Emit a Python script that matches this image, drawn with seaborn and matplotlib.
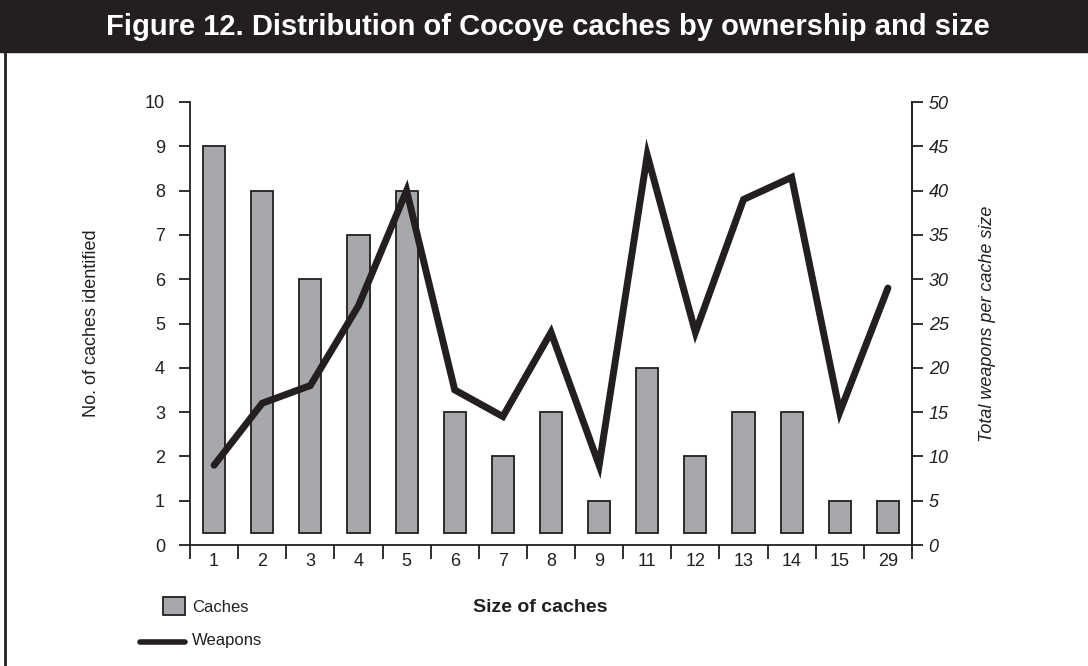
import numpy as np
import pandas as pd
import matplotlib
matplotlib.use("Agg")
import matplotlib.pyplot as plt
import seaborn as sns
from matplotlib.patches import Rectangle
from matplotlib.lines import Line2D

# data
cache_sizes = ["1", "2", "3", "4", "5", "6", "7", "8", "9", "11", "12", "13", "14", "15", "29"]
caches = [9, 8, 6, 7, 8, 3, 2, 3, 1, 4, 2, 3, 3, 1, 1]
weapons = [9, 16, 18, 27, 40, 17.5, 14.5, 24, 9, 44, 24, 39, 41.5, 15, 29]

BAR_BASE = 0.28  # bars in the original float slightly above the baseline
DARK = "#231f20"
GREY = "#a7a8ab"

sns.set_theme(style="white")
plt.rcParams["font.family"] = ["Liberation Sans", "DejaVu Sans"]
plt.rcParams["text.color"] = DARK
plt.rcParams["axes.labelcolor"] = DARK
plt.rcParams["xtick.color"] = DARK
plt.rcParams["ytick.color"] = DARK

df = pd.DataFrame({"size": cache_sizes, "caches": caches, "weapons": weapons})


def create_chart():
    fig = plt.figure(figsize=(10.88, 6.66), dpi=100)
    ax = fig.add_axes([190 / 1088, 1 - 545 / 666, 722 / 1088, 443 / 666])

    # caches bars
    sns.barplot(data=df, x="size", y="caches", ax=ax, color=GREY,
                edgecolor=DARK, linewidth=1.3, width=0.46, saturation=1)
    for p in ax.patches:
        h = p.get_height()
        p.set_y(BAR_BASE)
        p.set_height(h - BAR_BASE)

    ax.set_ylim(0, 10)
    ax.set_xlim(-0.5, len(cache_sizes) - 0.5)
    ax.set_yticks(range(0, 11))
    ax.set_xlabel("")
    ax.set_ylabel("No. of caches identified", fontsize=13, labelpad=32)
    ax.tick_params(axis="y", direction="out", length=8, width=1.3, pad=10,
                   labelsize=13, left=True)
    ax.tick_params(axis="x", which="major", length=0, pad=6, labelsize=13)
    ax.set_xticks(np.arange(-0.5, len(cache_sizes)), minor=True)
    ax.tick_params(axis="x", which="minor", direction="out", length=10,
                   width=1.3, bottom=True)
    for s in ["left", "bottom", "right"]:
        ax.spines[s].set_visible(True)
        ax.spines[s].set_color(DARK)
        ax.spines[s].set_linewidth(1.3)
    ax.spines["top"].set_visible(False)

    # weapons line on secondary axis
    ax2 = ax.twinx()
    sns.lineplot(x=np.arange(len(cache_sizes)), y=df["weapons"], ax=ax2,
                 color=DARK, linewidth=5, solid_joinstyle="miter")
    ax2.set_ylim(0, 50)
    ax2.set_yticks(range(0, 51, 5))
    ax2.set_ylabel("Total weapons per cache size", fontsize=13,
                   style="italic", labelpad=22)
    ax2.tick_params(axis="y", direction="out", length=8, width=1.3, pad=4,
                    labelsize=13, right=True)
    for lbl in ax2.get_yticklabels():
        lbl.set_style("italic")
    for s in ["left", "bottom", "top"]:
        ax2.spines[s].set_visible(False)
    ax2.spines["right"].set_visible(True)
    ax2.spines["right"].set_color(DARK)
    ax2.spines["right"].set_linewidth(1.3)

    # title bar
    fig.patches.append(Rectangle((0, 1 - 52 / 666), 1, 52 / 666,
                                 transform=fig.transFigure, color=DARK, zorder=0))
    fig.text(548 / 1088, 1 - 27 / 666, "Figure 12. Distribution of Cocoye caches by ownership and size",
             ha="center", va="center", color="white", fontsize=21,
             fontweight="bold")
    # frame line on the left
    fig.add_artist(Line2D([5 / 1088, 5 / 1088], [0, 1 - 52 / 666],
                          transform=fig.transFigure, color=DARK, linewidth=2))

    fig.text(540 / 1088, 1 - 607 / 666, "Size of caches", ha="center",
             va="center", fontsize=14, fontweight="bold")

    # legend
    fig.patches.append(Rectangle((163 / 1088, 1 - 615 / 666), 22 / 1088, 18 / 666,
                                 transform=fig.transFigure, facecolor=GREY,
                                 edgecolor=DARK, linewidth=1.3))
    fig.text(192 / 1088, 1 - 607 / 666, "Caches", va="center", fontsize=12)
    fig.add_artist(Line2D([140 / 1088, 185 / 1088], [1 - 642 / 666, 1 - 642 / 666],
                          transform=fig.transFigure, color=DARK, linewidth=4))
    fig.text(192 / 1088, 1 - 641 / 666, "Weapons", va="center", fontsize=12)

    fig.savefig("out.png", dpi=100)


if __name__ == "__main__":
    create_chart()
